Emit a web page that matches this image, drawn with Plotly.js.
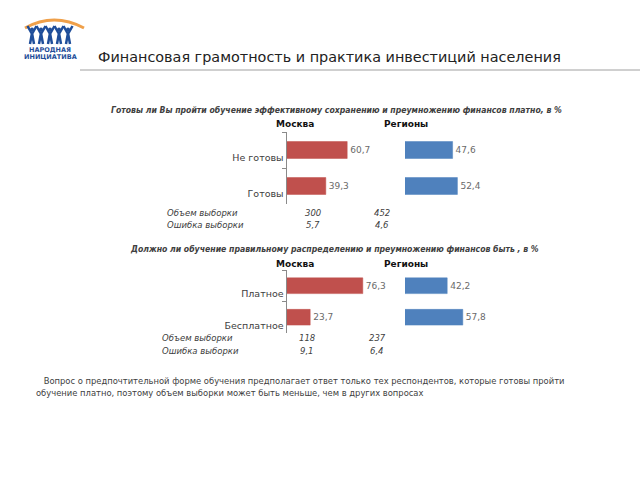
<!DOCTYPE html>
<html>
<head>
<meta charset="utf-8">
<script src="https://cdn.plot.ly/plotly-3.0.1.min.js"></script>
<style>html,body{margin:0;padding:0;background:#fff}#chart{width:640px;height:480px}</style>
</head>
<body>
<div id="chart"></div>
<script>
// ---- data ----
const pageTitle = 'Финансовая грамотность и практика инвестиций населения';
const question1 = 'Готовы ли Вы пройти обучение эффективному сохранению и преумножению финансов платно, в %';
const question2 = 'Должно ли обучение правильному распределению и преумножению финансов быть , в %';
const groupLabels = ['Москва', 'Регионы'];
const categories1 = ['Не готовы', 'Готовы'];
const moscow1 = [60.7, 39.3];
const regions1 = [47.6, 52.4];
const categories2 = ['Платное', 'Бесплатное'];
const moscow2 = [76.3, 23.7];
const regions2 = [42.2, 57.8];
const rowLabels = ['Объем выборки', 'Ошибка выборки'];
const sampleSize1 = [300, 452];
const sampleError1 = [5.7, 4.6];
const sampleSize2 = [118, 237];
const sampleError2 = [9.1, 6.4];
const footnote1 = ' Вопрос о предпочтительной форме обучения предполагает ответ только тех респондентов, которые готовы пройти';
const footnote2 = 'обучение платно, поэтому объем выборки может быть меньше, чем в других вопросах';
const logoLines = ['НАРОДНАЯ', 'ИНИЦИАТИВА'];

// ---- helpers ----
const W = 640, H = 480;
const px = x => x / W;
const py = y => 1 - y / H;
const fmt = v => v.toFixed(1).replace('.', ',');
const RED = '#C0504D', BLUE = '#4F81BD';
const FONT = 'DejaVu Sans, Verdana, sans-serif';
const CFONT = 'DejaVu Sans Condensed, DejaVu Sans, sans-serif';

function bar(cats, vals, color, xa, ya, width) {
  return {
    type: 'bar', orientation: 'h', y: cats, x: vals,
    xaxis: xa, yaxis: ya, width: width,
    marker: {color: color, line: {color: color, width: 0.5}},
    text: vals.map(fmt), textposition: 'outside', cliponaxis: false,
    textfont: {family: FONT, size: 9, color: '#6a6a6a'},
    hoverinfo: 'skip', showlegend: false
  };
}

const traces = [
  bar(categories1, moscow1, RED, 'x', 'y', 0.47),
  bar(categories1, regions1, BLUE, 'x2', 'y2', 0.47),
  bar(categories2, moscow2, RED, 'x3', 'y3', 0.5),
  bar(categories2, regions2, BLUE, 'x4', 'y4', 0.5)
];

function xAx(anchor, left) {
  return {domain: [px(left), px(left + 100)], range: [0, 100], anchor: anchor, visible: false, fixedrange: true};
}
function yAx(anchor, top, bottom, cats, shown, shift) {
  return {
    domain: [py(bottom), py(top)], anchor: anchor, type: 'category',
    categoryorder: 'array', categoryarray: cats, autorange: 'reversed',
    visible: shown, showline: true, linecolor: '#8a8a8a', linewidth: 1,
    ticks: 'outside', tickson: 'boundaries', ticklen: 4, tickcolor: '#8a8a8a',
    showgrid: false, zeroline: false, ticklabelshift: shift,
    tickfont: {family: FONT, size: 9.5, color: '#404040'}, fixedrange: true
  };
}

const ann = [];
function txt(x, y, text, o) {
  ann.push(Object.assign({xref: 'paper', yref: 'paper', x: px(x), y: py(y), text: text,
    showarrow: false, xanchor: 'left', yanchor: 'middle',
    font: {family: FONT, size: 9, color: '#404040'}}, o || {}));
}

// header
txt(96, 57, pageTitle, {font: {family: FONT, size: 14.4, color: '#222'}});
// question titles
txt(336, 110, '<b><i>' + question1 + '</i></b>', {xanchor: 'center', font: {family: CFONT, size: 8.65, color: '#404040'}});
txt(334, 249, '<b><i>' + question2 + '</i></b>', {xanchor: 'center', font: {family: CFONT, size: 8.65, color: '#404040'}});
// group headers
[[124, [295, 406]], [264, [295, 406]]].forEach(([y, xs]) => {
  groupLabels.forEach((g, i) => txt(xs[i], y, '<b>' + g + '</b>', {xanchor: 'center', font: {family: FONT, size: 9, color: '#111'}}));
});
// sample rows
function rows(y0, labelX, colX, sizes, errs) {
  const vals = [sizes.map(String), errs.map(fmt)];
  rowLabels.forEach((r, k) => {
    const y = y0 + k * 12.5;
    txt(labelX, y, '<i>' + r + '</i>', {font: {family: FONT, size: 8.5, color: '#404040'}});
    vals[k].forEach((v, i) => txt(colX[i], y, '<i>' + v + '</i>', {xanchor: 'center', font: {family: FONT, size: 8.5, color: '#404040'}}));
  });
}
rows(213, 165, [313, 382], sampleSize1, sampleError1);
rows(338, 160, [307, 377], sampleSize2, sampleError2);
// footnote
txt(39, 381, footnote1, {font: {family: FONT, size: 8.4, color: '#404040'}});
txt(34, 393, footnote2, {font: {family: FONT, size: 8.4, color: '#404040'}});
// logo text
logoLines.forEach((t, i) => txt(50, 50 + i * 7.5, '<b>' + t + '</b>', {xanchor: 'center', font: {family: FONT, size: 6.5, color: '#1F4E9A'}}));

// shapes
const shapes = [];
const P = (x, y) => px(x) + ',' + py(y);
shapes.push({type: 'line', xref: 'paper', yref: 'paper', x0: px(80), x1: px(640), y0: py(70), y1: py(70), line: {color: '#a0a0a0', width: 1}});
shapes.push({type: 'path', xref: 'paper', yref: 'paper', path: 'M' + P(25, 28) + ' Q' + P(54, 12) + ' ' + P(84, 28), line: {color: '#EFA04A', width: 3}});
[32, 41, 50, 59, 68].forEach(c => {
  shapes.push({type: 'path', xref: 'paper', yref: 'paper',
    path: 'M' + P(c - 4.5, 26) + ' L' + P(c, 34) + ' L' + P(c + 4.5, 26) + ' M' + P(c, 33) + ' L' + P(c - 2, 44) + ' M' + P(c, 33) + ' L' + P(c + 2, 44),
    line: {color: '#1F4E9A', width: 2.5}});
  shapes.push({type: 'circle', xref: 'paper', yref: 'paper', x0: px(c - 2), x1: px(c + 2), y0: py(31.5), y1: py(27.5), fillcolor: '#1F4E9A', line: {width: 0}});
});

const layout = {
  width: W, height: H, margin: {l: 0, r: 0, t: 0, b: 0},
  paper_bgcolor: '#fff', plot_bgcolor: 'rgba(0,0,0,0)',
  font: {family: FONT},
  showlegend: false,
  xaxis: xAx('y', 286.5), yaxis: yAx('x', 132, 204, categories1, true, -8),
  xaxis2: xAx('y2', 405), yaxis2: yAx('x2', 132, 204, categories1, false, 0),
  xaxis3: xAx('y3', 286.5), yaxis3: yAx('x3', 270, 333, categories2, true, -8),
  xaxis4: xAx('y4', 405), yaxis4: yAx('x4', 270, 333, categories2, false, 0),
  annotations: ann, shapes: shapes
};

Plotly.newPlot('chart', traces, layout, {displayModeBar: false, staticPlot: true});
</script>
</body>
</html>
